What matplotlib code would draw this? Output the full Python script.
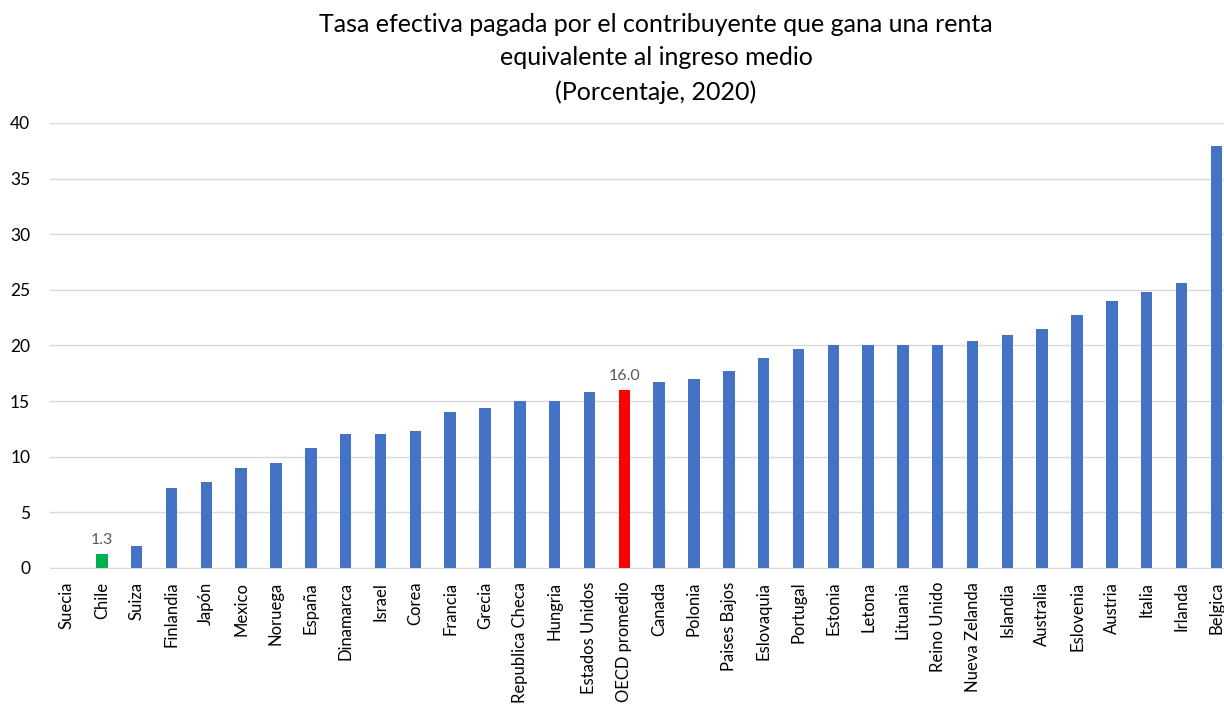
import matplotlib.pyplot as plt

plt.rcParams['font.family'] = ['Lato', 'DejaVu Sans']

paises = ['Suecia', 'Chile', 'Suiza', 'Finlandia', 'Japón', 'Mexico', 'Noruega',
          'España', 'Dinamarca', 'Israel', 'Corea', 'Francia', 'Grecia',
          'Republica Checa', 'Hungria', 'Estados Unidos', 'OECD promedio',
          'Canada', 'Polonia', 'Paises Bajos', 'Eslovaquia', 'Portugal',
          'Estonia', 'Letona', 'Lituania', 'Reino Unido', 'Nueva Zelanda',
          'Islandia', 'Australia', 'Eslovenia', 'Austria', 'Italia', 'Irlanda',
          'Belgica']
tasa = [0.0, 1.3, 2.0, 7.2, 7.7, 9.0, 9.4,
        10.8, 12.0, 12.0, 12.3, 14.0, 14.4,
        15.0, 15.0, 15.8, 16.0,
        16.7, 17.0, 17.7, 18.9, 19.7,
        20.0, 20.0, 20.0, 20.0, 20.4,
        20.9, 21.5, 22.7, 24.0, 24.8, 25.6,
        37.9]

azul = '#4472C4'
colores = [azul] * len(paises)
colores[paises.index('Chile')] = '#00B050'
colores[paises.index('OECD promedio')] = '#FF0000'

fig = plt.figure(figsize=(12.24, 7.06), dpi=100)
ax = fig.add_axes([0.0405, 0.1955, 0.9675, 0.6303])

x = range(len(paises))
barras = ax.bar(x, tasa, width=0.33, color=colores, zorder=2)

# etiquetas solo para Chile y el promedio OCDE
for nombre in ['Chile', 'OECD promedio']:
    i = paises.index(nombre)
    ax.text(i, tasa[i] + 0.6, f'{tasa[i]:.1f}', ha='center', va='bottom',
            fontsize=11.5, color='#595959')

ax.set_xlim(-0.5, len(paises) - 0.5)
ax.set_ylim(0, 40)
ax.set_yticks(range(0, 41, 5))
ax.yaxis.grid(True, color='#d9d9d9', linewidth=1, zorder=0)
ax.set_xticks(list(x))
ax.set_xticklabels(paises, rotation=90)
ax.tick_params(axis='both', length=0, colors='black')
ax.tick_params(axis='x', labelsize=12, pad=10)
ax.tick_params(axis='y', labelsize=12.5, pad=14)
for lado in ['top', 'right', 'left']:
    ax.spines[lado].set_visible(False)
ax.spines['bottom'].set_color('#d9d9d9')

fig.text(0.536, 0.982,
         'Tasa efectiva pagada por el contribuyente que gana una renta\n'
         'equivalente al ingreso medio\n(Porcentaje, 2020)',
         ha='center', va='top', fontsize=18, linespacing=1.55)

fig.savefig('out.png', dpi=100)
